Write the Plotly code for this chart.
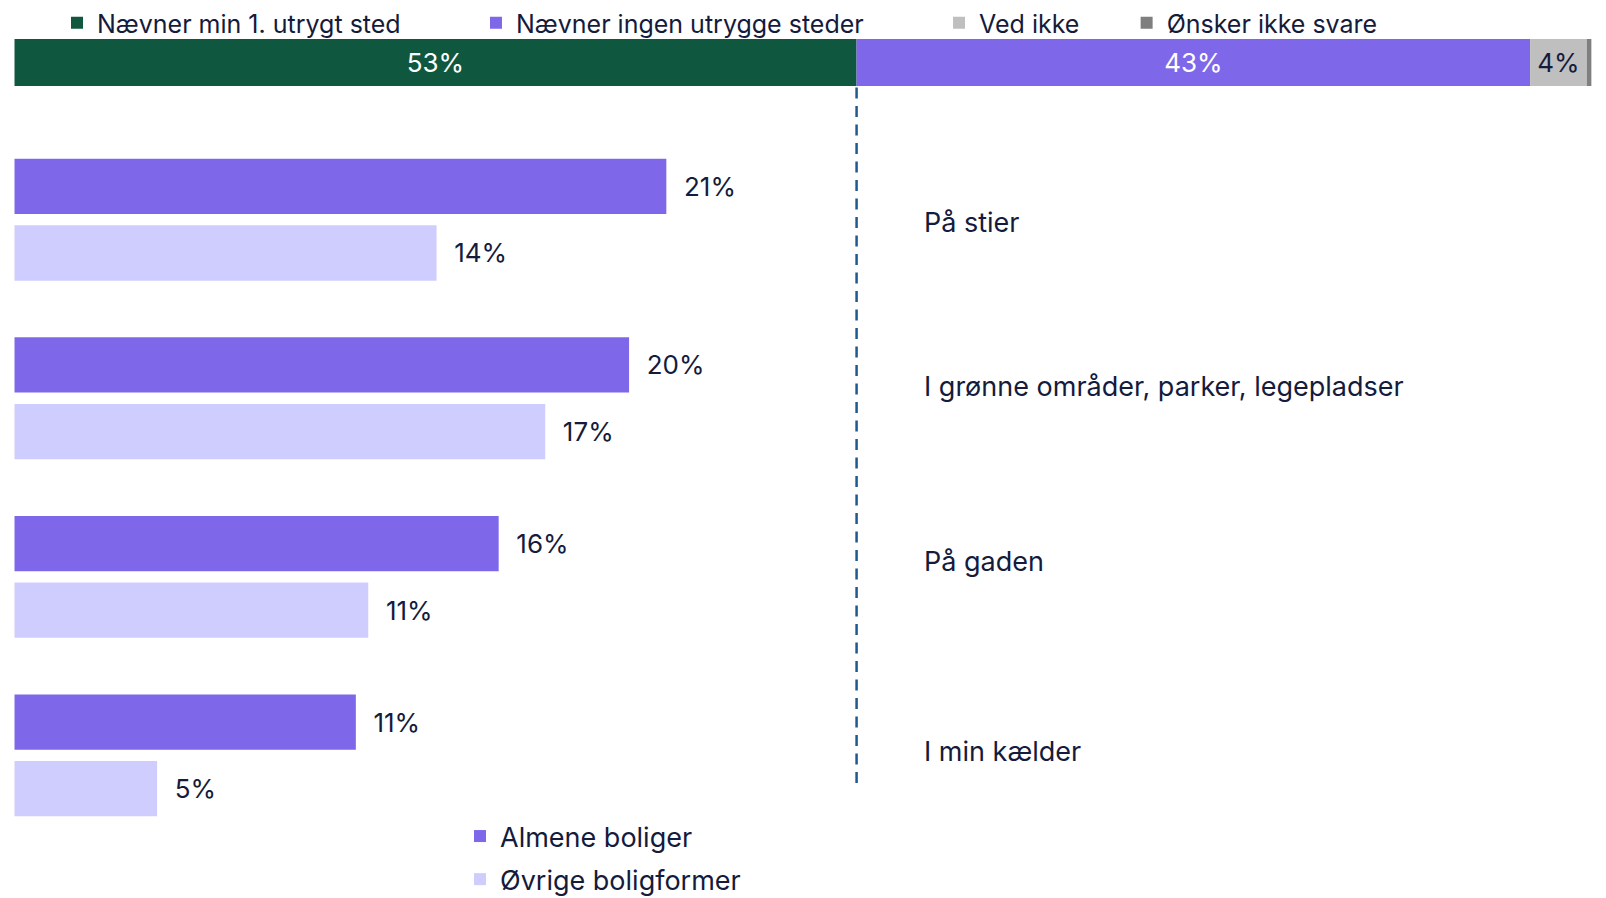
import plotly.graph_objects as go

# ---- data ----
top_names = ["Nævner min 1. utrygt sted", "Nævner ingen utrygge steder", "Ved ikke", "Ønsker ikke svare"]
top_values = [53.4, 42.7, 3.6, 0.3]

categories = ["På stier", "I grønne områder, parker, legepladser", "På gaden", "I min kælder"]
series_names = ["Almene boliger", "Øvrige boligformer"]
almene = [21.0, 19.8, 15.6, 11.0]
ovrige = [13.6, 17.1, 11.4, 4.6]

# ---- style ----
OFF = 8                      # page body margin
W, H = 1606 - OFF, 898 - OFF
FONT = "Inter, Lato, 'Open Sans', sans-serif"
FS = 27
FS_TOPLEG = 25
TXT = "#141b3c"
top_colors = ["#10573f", "#7f67ea", "#bfbfbf", "#7f7f7f"]
top_text_colors = ["white", "white", TXT, TXT]
ser_colors = ["#7f67ea", "#cfcdfd"]
label_yshift = [-3, 12, 15, 4]
legend_pad = [10, 10, 6, 0]   # non-breaking spaces after each top legend entry

def fx(px):  # page px -> paper x
    return (px - OFF) / W

def fy(px):  # page px -> paper y
    return 1 - (px - OFF) / H

x_dom = [fx(14.3), fx(1591.6)]

fig = go.Figure()

# top stacked bar (manual stacking via base)
base = 0
for i, (n, v) in enumerate(zip(top_names, top_values)):
    txt = f"{v:.0f}%" if v >= 1 else ""
    fig.add_trace(go.Bar(
        x=[v], y=[0], base=[base], orientation="h",
        name=n + "\u00a0" * legend_pad[i],
        marker=dict(color=top_colors[i], line=dict(width=0)),
        width=1, offset=-0.5,
        text=[txt], textposition="inside", insidetextanchor="middle",
        textfont=dict(color=top_text_colors[i], size=FS - 1, family=FONT),
        xaxis="x", yaxis="y", legend="legend", showlegend=True,
        hoverinfo="skip",
    ))
    base += v

# bottom grouped bars
for vals, name, col in zip([almene, ovrige], series_names, ser_colors):
    fig.add_trace(go.Bar(
        x=vals, y=categories, orientation="h", name=name,
        marker=dict(color=col, line=dict(width=0)),
        text=[f"\u00a0\u00a0{v:.0f}%" for v in vals], textposition="outside",
        textfont=dict(color=TXT, size=FS - 1, family=FONT),
        cliponaxis=False,
        xaxis="x2", yaxis="y2", legend="legend2", legendgroup=name,
        hoverinfo="skip",
    ))

# category labels on the right
for cat, ys in zip(categories, label_yshift):
    fig.add_annotation(
        x=fx(922), xref="paper", y=cat, yref="y2", yshift=ys,
        text=cat, showarrow=False, xanchor="left", yanchor="middle",
        font=dict(size=FS, color=TXT, family=FONT),
    )

# dashed divider at the end of the first segment
fig.add_shape(
    type="line", xref="x", yref="paper",
    x0=top_values[0], x1=top_values[0], y0=fy(783), y1=fy(87),
    line=dict(color="#1f5a8f", width=2.5, dash="11px,7.5px"),
)

fig.update_layout(
    width=W, height=H,
    margin=dict(l=0, r=0, t=0, b=0, autoexpand=False),
    paper_bgcolor="white", plot_bgcolor="white",
    barmode="group", bargap=0.254, bargroupgap=0.17,
    font=dict(family=FONT, color=TXT, size=FS),
    xaxis=dict(domain=x_dom, range=[0, 100], visible=False),
    yaxis=dict(domain=[fy(86), fy(39)], range=[-0.5, 0.5], visible=False),
    xaxis2=dict(domain=x_dom, range=[0, 50.8], visible=False, anchor="y2"),
    yaxis2=dict(domain=[fy(844.7), fy(130.4)], range=[3.5, -0.5], visible=False,
                type="category", categoryorder="array", categoryarray=categories, anchor="x2"),
    legend=dict(orientation="h", x=fx(57), xanchor="left", y=1 + 8 / H, yanchor="top",
                font=dict(size=FS_TOPLEG, color=TXT, family=FONT), bgcolor="rgba(0,0,0,0)",
                traceorder="normal"),
    legend2=dict(orientation="v", x=fx(460), xanchor="left", y=fy(812), yanchor="top",
                 font=dict(size=FS, color=TXT, family=FONT), bgcolor="rgba(0,0,0,0)",
                 tracegroupgap=5, traceorder="grouped"),
    showlegend=True,
)

fig.write_html("out.html")
